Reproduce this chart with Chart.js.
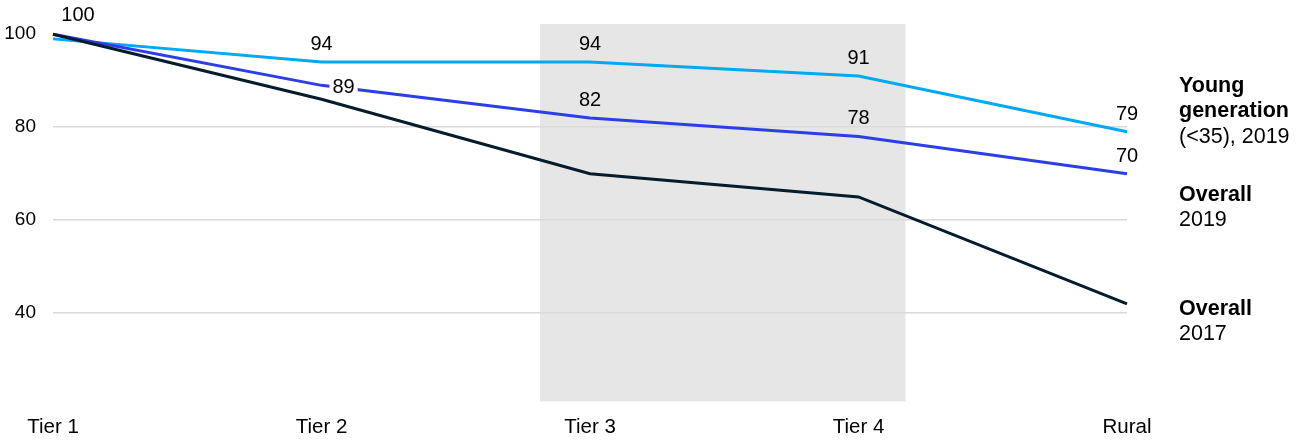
<!DOCTYPE html>
<html>
<head>
<meta charset="utf-8">
<script src="https://cdn.jsdelivr.net/npm/chart.js@4.4.1/dist/chart.umd.min.js"></script>
<style>
  html, body { margin: 0; padding: 0; background: #ffffff; }
  canvas { display: block; }
</style>
</head>
<body>
<canvas id="chart" width="1306" height="443"></canvas>
<script>
// Index values by city tier (Tier 1 = 100)
const categories = ['Tier 1', 'Tier 2', 'Tier 3', 'Tier 4', 'Rural'];
const youngGeneration2019 = [99, 94, 94, 91, 79];
const overall2019 = [100, 89, 82, 78, 70];
const overall2017 = [100, 86, 70, 65, 42];
const yTickValues = [40, 60, 80, 100];

// Series names shown at the right end of the lines
const youngGenerationName = { bold: ['Young', 'generation'], regular: ['(<35), 2019'] };
const overall2019Name = { bold: ['Overall'], regular: ['2019'] };
const overall2017Name = { bold: ['Overall'], regular: ['2017'] };

// Which points carry a value label
const youngLabelled = [false, true, true, true, true];
const overall2019Labelled = [true, true, true, true, true];

const FONT = '"Liberation Sans", Arial, Helvetica, sans-serif';
const COLOR_YOUNG = '#00a9f4';
const COLOR_2019 = '#2c3ee8';
const COLOR_2017 = '#051c2c';

// Shaded band around Tier 3 and Tier 4
const bandPlugin = {
  id: 'band',
  beforeDraw(chart) {
    const { ctx, chartArea, scales } = chart;
    const x = scales.x;
    const step = x.getPixelForValue(1) - x.getPixelForValue(0);
    const left = x.getPixelForValue(2) - step * 0.186;
    const right = x.getPixelForValue(3) + step * 0.175;
    ctx.save();
    ctx.fillStyle = '#e6e6e6';
    ctx.fillRect(left, chartArea.top, right - left, chartArea.bottom - chartArea.top);
    ctx.restore();
  }
};

// Value labels above the points
const valueLabelPlugin = {
  id: 'valueLabels',
  afterDatasetsDraw(chart) {
    const { ctx } = chart;
    ctx.save();
    ctx.font = '20px ' + FONT;
    ctx.fillStyle = '#000000';
    ctx.textAlign = 'center';
    ctx.textBaseline = 'middle';
    const specs = [
      { ds: 2, flags: youngLabelled, values: youngGeneration2019 },
      { ds: 1, flags: overall2019Labelled, values: overall2019 }
    ];
    specs.forEach(spec => {
      const meta = chart.getDatasetMeta(spec.ds);
      meta.data.forEach((pt, i) => {
        if (!spec.flags[i]) return;
        const text = String(spec.values[i]);
        let x = pt.x;
        let y = pt.y - 18.5;
        let knockout = false;
        if (spec.ds === 1 && i === 0) { x = pt.x + 25; y = pt.y - 19.5; }
        if (spec.ds === 1 && i === 1) { x = pt.x + 22; y = pt.y + 1.5; knockout = true; }
        if (knockout) {
          const w = ctx.measureText(text).width + 6;
          ctx.fillStyle = '#ffffff';
          ctx.fillRect(x - w / 2, y - 9, w, 18);
          ctx.fillStyle = '#000000';
        }
        ctx.fillText(text, x, y + 1);
      });
    });
    ctx.restore();
  }
};

// Series names to the right of the plot
const seriesNamePlugin = {
  id: 'seriesNames',
  afterDraw(chart) {
    const { ctx } = chart;
    const x = 1179;
    const lineGap = 25.5;
    const blocks = [
      { name: youngGenerationName, top: 91.7 },
      { name: overall2019Name, top: 200.5 },
      { name: overall2017Name, top: 314.5 }
    ];
    ctx.save();
    ctx.fillStyle = '#000000';
    ctx.textAlign = 'left';
    ctx.textBaseline = 'alphabetic';
    blocks.forEach(b => {
      let y = b.top;
      ctx.font = 'bold 21.5px ' + FONT;
      b.name.bold.forEach(t => { ctx.fillText(t, x, y); y += lineGap; });
      ctx.font = '21.5px ' + FONT;
      b.name.regular.forEach(t => { ctx.fillText(t, x, y); y += lineGap; });
    });
    ctx.restore();
  }
};

const lineStyle = { borderWidth: 3, pointRadius: 0, pointHoverRadius: 0, tension: 0, fill: false };

new Chart(document.getElementById('chart'), {
  type: 'line',
  data: {
    labels: categories,
    datasets: [
      Object.assign({ label: 'Overall 2017', data: overall2017, borderColor: COLOR_2017 }, lineStyle),
      Object.assign({ label: 'Overall 2019', data: overall2019, borderColor: COLOR_2019 }, lineStyle),
      Object.assign({ label: 'Young generation (<35), 2019', data: youngGeneration2019, borderColor: COLOR_YOUNG }, lineStyle)
    ]
  },
  options: {
    responsive: false,
    animation: false,
    events: [],
    layout: { padding: { top: 24, right: 179, bottom: 0, left: 0 } },
    plugins: { legend: { display: false }, tooltip: { enabled: false } },
    scales: {
      x: {
        type: 'category',
        offset: false,
        grid: { display: false, drawTicks: false },
        border: { display: false },
        ticks: { font: { family: FONT, size: 20.5 }, color: '#000000', padding: 14, maxRotation: 0, autoSkip: false },
        afterFit(scale) { scale.height = 41.6; scale.paddingLeft = 0; scale.paddingRight = 0; }
      },
      y: {
        min: 21,
        max: 102.2,
        afterBuildTicks(scale) { scale.ticks = yTickValues.map(v => ({ value: v })); },
        grid: {
          drawTicks: false,
          lineWidth: 1.5,
          color: c => (c.tick && c.tick.value === 100) ? 'rgba(0,0,0,0)' : '#dadada'
        },
        border: { display: false },
        ticks: { font: { family: FONT, size: 19 }, color: '#000000', padding: 17 },
        afterFit(scale) { scale.width = 53; scale.paddingTop = 0; scale.paddingBottom = 0; }
      }
    }
  },
  plugins: [bandPlugin, valueLabelPlugin, seriesNamePlugin]
});
</script>
</body>
</html>
